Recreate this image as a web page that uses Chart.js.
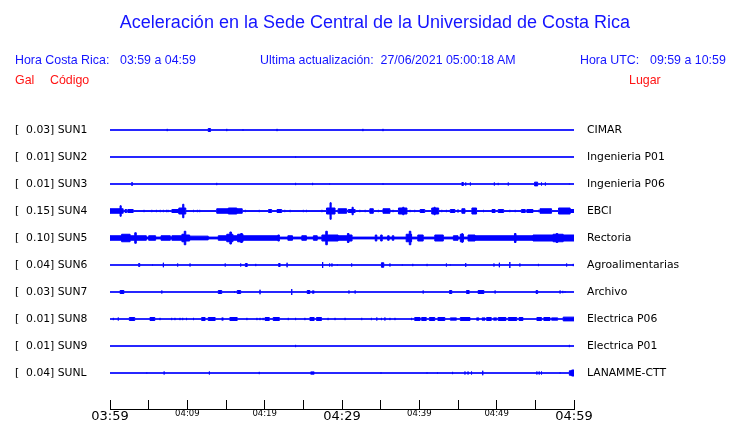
<!DOCTYPE html>
<html>
<head>
<meta charset="utf-8">
<script src="https://cdn.jsdelivr.net/npm/chart.js@4/dist/chart.umd.min.js"></script>
<style>
body { margin: 0; background: #fff; }
#wrap { position: relative; width: 740px; height: 423px; font-family: "Liberation Sans", Arial, sans-serif; }
#c { position: absolute; left: 0; top: 0; }
.t { position: absolute; white-space: pre; font-size: 12.4px; color: #1414ff; line-height: 14px; }
.r { color: #ff1414; }
#title { left: 0; width: 750px; text-align: center; top: 11px; font-size: 18px; line-height: 22px; }
</style>
</head>
<body>
<div id="wrap">
  <canvas id="c" width="740" height="423"></canvas>
  <div class="t" id="title">Aceleración en la Sede Central de la Universidad de Costa Rica</div>
  <div class="t" style="left:15px;top:53px">Hora Costa Rica:</div>
  <div class="t" style="left:120px;top:53px">03:59 a 04:59</div>
  <div class="t" style="left:260px;top:53px">Ultima actualización:  27/06/2021 05:00:18 AM</div>
  <div class="t" style="left:580px;top:53px">Hora UTC:</div>
  <div class="t" style="left:650px;top:53px">09:59 a 10:59</div>
  <div class="t r" style="left:15px;top:73px">Gal</div>
  <div class="t r" style="left:50px;top:73px">Código</div>
  <div class="t r" style="left:629px;top:73px">Lugar</div>
</div>
<script>
// estaciones, de arriba hacia abajo
var stations = ["SUN1", "SUN2", "SUN3", "SUN4", "SUN5", "SUN6", "SUN7", "SUN8", "SUN9", "SUNL"];
var gains = ["0.03", "0.01", "0.01", "0.15", "0.10", "0.04", "0.03", "0.01", "0.01", "0.04"];
var places = ["CIMAR", "Ingenieria P01", "Ingenieria P06", "EBCI", "Rectoria", "Agroalimentarias",
              "Archivo", "Electrica P06", "Electrica P01", "LANAMME-CTT"];

// eje de tiempo: minutos desde 03:59
var tickMinutes = [0, 10, 20, 30, 40, 50, 60];
var tickTexts = ["03:59", "04:09", "04:19", "04:29", "04:39", "04:49", "04:59"];
var majorTicks = [0, 30, 60];

// amplitud de fondo de cada traza
var baseAmp = [0.3, 0.3, 0.3, 0.5, 1.2, 0.3, 0.3, 0.3, 0.3, 0.3];

// eventos: [minuto, amplitud] o [inicio, fin, amplitud]
var sun1 = [[7.4, 1.5], [12.7, 13.0, 2], [15.1, 1.5], [17.2, 1], [21.6, 1.5], [32.7, 1.5], [35.3, 1.5]];
var sun2 = [[24.0, 1]];
var sun3 = [[2.8, 2.9, 2], [13.8, 1.5], [24.0, 1.5], [26.2, 1.5], [28.4, 1], [35.3, 1],
            [45.5, 45.7, 2], [46.0, 2], [46.6, 2], [49.7, 2], [50.2, 1.5], [51.5, 2],
            [54.9, 55.3, 2.5], [55.8, 2], [56.3, 2], [59.4, 1]];
var sun4 = [[0, 1.3, 3], [1.3, 1.45, 7], [1.45, 1.7, 3], [1.95, 2.15, 2], [2.3, 3.0, 2], [4.4, 1.5],
            [5.4, 1.5], [6.0, 1.5], [6.5, 1.5], [6.9, 1.5], [7.3, 1.5], [7.5, 1.5],
            [8.0, 8.9, 2], [8.9, 9.4, 4], [9.4, 9.55, 9], [9.55, 9.8, 4],
            [10.8, 1.5], [11.3, 1.5], [11.6, 1.5],
            [13.8, 15.3, 3], [15.3, 16.4, 4], [16.4, 17.1, 3], [17.5, 1.5],
            [19.3, 1.5], [20.5, 20.9, 2], [21.6, 22.2, 2], [22.6, 1.5], [23.3, 1.5], [25.0, 1.5], [25.4, 1.5], [27.4, 1.5],
            [28.0, 28.45, 4], [28.45, 28.6, 11], [28.6, 29.1, 4], [29.5, 30.6, 3],
            [30.8, 31.3, 2], [31.3, 31.45, 5], [31.45, 31.7, 2], [32.3, 1.5], [33.0, 1.5], [33.6, 34.05, 3], [34.7, 1.5],
            [35.3, 36.2, 3], [36.6, 1.5], [37.3, 37.85, 4], [37.85, 38.0, 5], [38.0, 38.4, 4],
            [38.8, 1.5], [39.4, 1.5], [40.1, 40.7, 2], [41.6, 41.9, 4], [41.9, 42.05, 5], [42.05, 42.5, 4],
            [42.9, 1.5], [43.5, 1.5], [44.0, 44.6, 2], [45.0, 2], [45.5, 45.9, 3], [46.8, 47.4, 4],
            [48.3, 1.5], [49.4, 49.8, 2], [50.2, 50.9, 2], [51.7, 1.5], [52.4, 1.5], [53.2, 53.7, 2], [53.9, 54.7, 2],
            [55.4, 1.5], [55.6, 57.1, 3], [58.0, 59.5, 4], [59.5, 60, 2]];
var sun5 = [[0, 1.5, 3], [1.5, 2.6, 5], [2.6, 3.2, 3], [3.2, 3.4, 7], [3.4, 4.7, 3], [5.0, 5.9, 3], [6.6, 7.8, 3],
            [8.0, 9.3, 3], [9.3, 9.6, 5], [9.6, 9.8, 9], [9.8, 10.3, 4], [10.3, 12.7, 2.5],
            [14.0, 15.1, 3], [15.1, 15.5, 5], [15.5, 15.7, 8], [15.7, 15.9, 5], [15.9, 16.5, 3],
            [16.5, 16.9, 5], [16.9, 17.1, 6], [17.1, 17.2, 5], [17.2, 21.7, 3], [21.7, 21.9, 4],
            [23.0, 23.6, 3], [24.8, 25.4, 3], [26.3, 26.8, 3], [27.4, 27.9, 4], [27.9, 28.1, 9],
            [28.1, 29.5, 4], [29.5, 30.7, 3], [30.7, 30.9, 6], [30.9, 31.3, 4],
            [34.3, 34.5, 4], [35.0, 35.2, 4], [35.9, 36.1, 3], [36.5, 36.7, 3],
            [38.3, 38.7, 5], [38.7, 38.9, 9], [38.9, 39.0, 5], [39.8, 40.5, 4], [42.0, 43.1, 4],
            [44.4, 45.0, 3], [45.3, 45.5, 5], [45.5, 45.6, 6], [45.6, 45.7, 5], [46.3, 47.2, 4],
            [47.2, 52.3, 3], [52.3, 52.5, 6], [52.5, 54.7, 3], [54.7, 57.3, 4],
            [57.3, 57.7, 5], [57.7, 57.9, 6], [57.9, 58.6, 5], [58.6, 60, 4]];
var sun6 = [[3.7, 3.85, 2], [5.5, 1], [6.9, 3], [8.75, 2], [10.35, 2], [14.9, 2], [16.9, 2], [17.5, 17.75, 2],
            [18.85, 1.5], [21.8, 22.0, 2], [22.9, 3], [27.5, 4], [28.4, 2], [28.7, 2], [29.4, 1], [31.25, 2],
            [35.1, 35.4, 3], [36.2, 2], [37.8, 1], [39.15, 1.5], [41.0, 1.5], [43.5, 2], [44.0, 1],
            [46.0, 2.5], [49.65, 2], [50.35, 3], [51.7, 4], [53.0, 2], [55.4, 1.5], [59.05, 2], [59.9, 1.5]];
var sun7 = [[1.3, 1.8, 2], [6.7, 2], [14.0, 14.45, 2], [16.1, 1], [16.45, 16.9, 2], [19.4, 3], [23.5, 4],
            [25.5, 25.85, 2], [26.15, 26.4, 1.5], [30.9, 2], [31.7, 2], [40.5, 2], [43.9, 44.2, 2],
            [46.1, 46.45, 2], [47.6, 48.35, 2], [49.8, 2], [55.1, 55.3, 2], [58.2, 2], [58.55, 1.5], [58.85, 1]];
var sun8 = [[0.43, 1.5], [1.07, 2], [2.5, 3.2, 2], [5.17, 5.8, 2], [6.47, 1.5], [7.98, 1.5], [8.4, 1.5],
            [9.05, 1.5], [9.4, 1.5], [9.9, 1.5], [10.8, 1.5], [11.85, 12.3, 2], [12.7, 13.6, 2],
            [14.45, 14.65, 1.5], [15.5, 16.45, 2], [17.7, 1.5], [19.0, 1.5], [19.4, 1.5], [19.8, 1.5],
            [20.05, 20.6, 2], [21.1, 21.9, 2], [23.05, 1.5], [24.0, 1.5], [25.2, 1.5], [25.85, 26.4, 2],
            [26.7, 27.35, 2], [28.2, 1.5], [29.1, 1.5], [30.4, 1.5], [32.55, 1.5], [33.8, 1.5], [34.5, 2],
            [35.1, 1.5], [35.55, 2], [36.2, 1.5], [36.85, 1.5], [39.0, 1.5], [39.4, 40.1, 2],
            [40.3, 40.9, 2], [41.3, 42.0, 2], [42.4, 43.3, 2], [44.0, 44.8, 1.5], [45.3, 46.55, 2],
            [47.4, 47.7, 1.5], [48.1, 48.5, 1.5], [48.7, 49.3, 2], [49.6, 50.0, 1.5], [50.2, 51.2, 2],
            [51.5, 52.6, 2], [52.9, 53.4, 2], [55.2, 55.8, 2], [56.1, 56.9, 2], [57.1, 57.9, 1.5], [58.6, 60, 2.5]];
var sun9 = [[24.0, 1.5], [59.4, 1.5]];
var sunl = [[4.75, 1], [7.0, 2], [12.85, 2], [19.3, 1.5], [25.95, 26.4, 1.5], [35.05, 1], [41.0, 1],
            [42.35, 1], [44.3, 1.5], [45.9, 2], [46.3, 2], [46.75, 2], [48.2, 3], [55.2, 2], [55.5, 2],
            [55.8, 2], [58.2, 1], [59.4, 59.7, 3], [59.7, 60, 4]];
var traces = [sun1, sun2, sun3, sun4, sun5, sun6, sun7, sun8, sun9, sunl];

var BLUE = "#0000ff";
var ROW = 36; // amplitud -> fracción de separación entre trazas

function envelope(ev, base, row, sign) {
    var pts = [{x: 0, y: row + sign * base / ROW}];
    ev.forEach(function (e) {
        var t0 = e[0];
        var t1 = e.length == 3 ? e[1] : e[0];
        var a = e[e.length - 1];
        pts.push({x: t0, y: row + sign * a / ROW});
        pts.push({x: t1, y: row + sign * base / ROW});
    });
    pts.push({x: 60, y: row + sign * base / ROW});
    return pts;
}

var datasets = [];
for (let i = 0; i < stations.length; i++) {
    datasets.push({
        label: stations[i],
        data: envelope(traces[i], baseAmp[i], i, -1),
        borderColor: BLUE, borderWidth: 1, pointRadius: 0, stepped: true, fill: false
    });
    datasets.push({
        label: stations[i] + " inf",
        data: envelope(traces[i], baseAmp[i], i, 1),
        borderColor: BLUE, borderWidth: 1, pointRadius: 0, stepped: true,
        fill: "-1", backgroundColor: BLUE
    });
}

function rowTicks(s) {
    s.ticks = stations.map(function (_, i) { return {value: i}; });
}

new Chart(document.getElementById("c"), {
    type: "line",
    data: {datasets: datasets},
    options: {
        responsive: false,
        animation: false,
        layout: {padding: {left: 15, top: 103, right: 0, bottom: 0}},
        plugins: {legend: {display: false}, tooltip: {enabled: false}},
        scales: {
            x: {
                type: "linear", min: 0, max: 60, position: "bottom",
                afterFit: function (s) { s.height = 14; },
                grid: {drawOnChartArea: false, tickLength: -9, color: "#000", lineWidth: 1},
                border: {display: true, color: "#000", width: 1},
                ticks: {
                    stepSize: 5, autoSkip: false, maxRotation: 0, padding: 9, color: "#000",
                    callback: function (v) {
                        var k = tickMinutes.indexOf(v);
                        return k < 0 ? "" : tickTexts[k];
                    },
                    font: function (ctx) {
                        var big = ctx.tick && majorTicks.indexOf(ctx.tick.value) >= 0;
                        return {family: "DejaVu Sans", size: big ? 13 : 8.5};
                    }
                }
            },
            y: {
                type: "linear", reverse: true, min: -1, max: 10.333, position: "left",
                afterFit: function (s) { s.width = 95; },
                afterBuildTicks: rowTicks,
                grid: {display: false, drawTicks: false}, border: {display: false},
                ticks: {
                    crossAlign: "far", padding: 0, color: "#000",
                    font: {family: "DejaVu Sans", size: 10.8},
                    callback: function (v, i) { return "[  " + gains[i] + "] " + stations[i]; }
                }
            },
            y2: {
                type: "linear", reverse: true, min: -1, max: 10.333, position: "right",
                afterFit: function (s) { s.width = 166; },
                afterBuildTicks: rowTicks,
                grid: {display: false, drawTicks: true, tickLength: 13}, border: {display: false},
                ticks: {
                    crossAlign: "near", padding: 0, color: "#000",
                    font: {family: "DejaVu Sans", size: 10.8},
                    callback: function (v, i) { return places[i]; }
                }
            }
        }
    }
});
</script>
</body>
</html>
